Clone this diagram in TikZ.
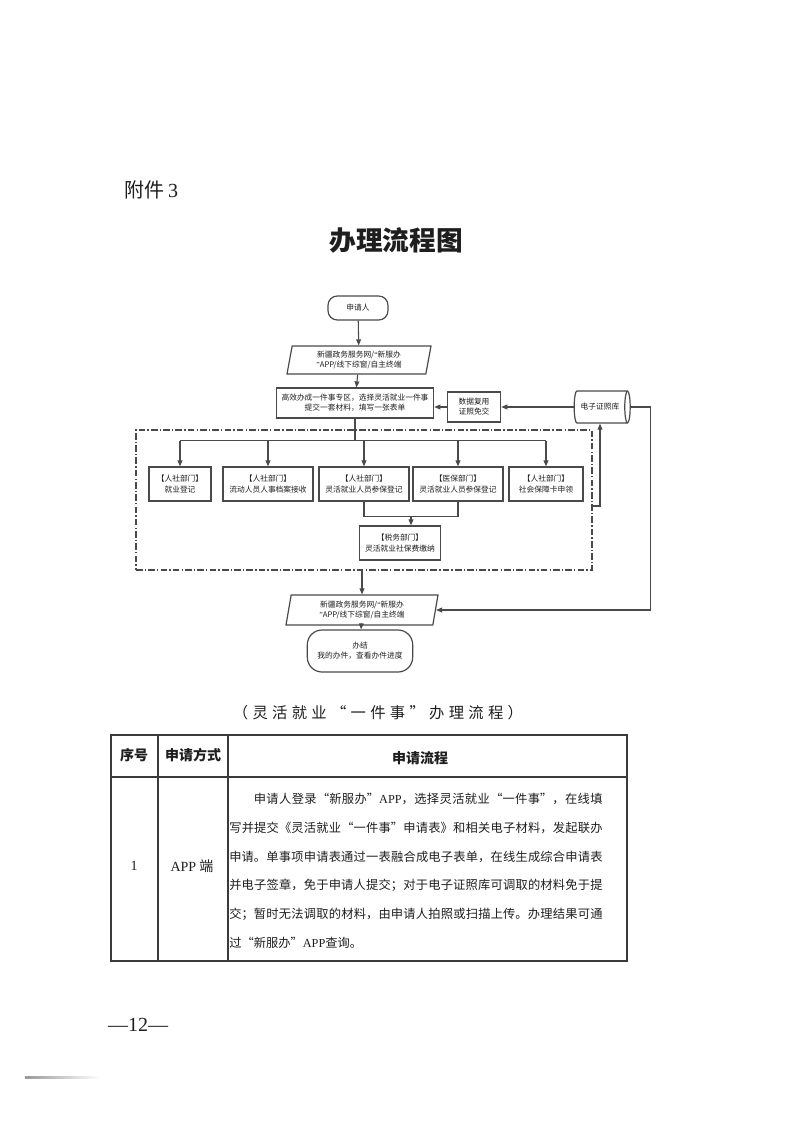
\documentclass[tikz,border=0pt]{standalone}
\usepackage{fontspec}
\setmainfont{Liberation Serif}
\newfontfamily\cjk{Noto Sans CJK SC}
\newfontfamily\cjkwide[LetterSpace=28]{Noto Sans CJK SC}
\usepackage{tikz}
\usetikzlibrary{calc,arrows.meta,positioning,shapes.geometric}
\definecolor{linex}{HTML}{4A4A4A}
\definecolor{inkx}{HTML}{1E1E1E}
\definecolor{rulex}{HTML}{3A3A3A}
\tikzset{
  ar/.style={-{Triangle[length=4.5pt,width=3.6pt]},line width=0.8pt,draw=linex},
  box/.style={draw=linex,line width=0.9pt,align=center,inner sep=1pt,text=inkx,font=\cjk\fontsize{5.8}{7.6}\selectfont},
  term/.style={box,rounded corners=7pt},
  para/.style={box,trapezium,trapezium left angle=76,trapezium right angle=104,trapezium stretches body},
  dept/.style={box,minimum height=25.5pt},
  cyl/.style={box,cylinder,aspect=0.55,minimum width=24pt,minimum height=42pt},
  dashgrp/.style={draw=linex,line width=0.8pt,dash pattern=on 5pt off 1.6pt on 1pt off 1.6pt},
  tbl/.style={draw=rulex,line width=1.1pt},
  head/.style={font=\cjk\bfseries\fontsize{10.5}{12}\selectfont,text=inkx},
  cell/.style={font=\cjk\fontsize{10.5}{12}\selectfont,text=inkx}
}
\begin{document}
\begin{tikzpicture}[x=0.75pt,y=-0.75pt]
\useasboundingbox (0,0) rectangle (793,1122);
\node[anchor=west,font=\cjk\fontsize{15}{18}\selectfont,text=inkx] (annex) at (120,190) {附件\,{\rmfamily 3}};
\node[font=\cjk\bfseries\fontsize{20}{24}\selectfont,text=inkx] (title) at (396,240) {办理流程图};

\node[term,minimum width=45pt,minimum height=18pt] (appl) at (358,308) {申请人};
\node[para,minimum width=108pt,minimum height=21pt] (portal) at (359,360) {新疆政务服务网/{\rmfamily “}新服办\\{\rmfamily ”}APP/线下综窗/自主终端};
\node[box,minimum width=118pt,minimum height=22.5pt] (onestop) at (355,403) {高效办成一件事专区，选择灵活就业一件事\\提交一套材料，填写一张表单};
\node[box,minimum width=40pt,minimum height=22.5pt] (reuse) at (474,407) {数据复用\\证照免交};
\node[cyl] (certlib) at (600,407) {电子证照库};

\node[dashgrp,minimum width=342pt,minimum height=105pt] (zone) at (364,500) {};
\foreach \nm/\cx/\wdx/\dept/\task in {jy/180/46.5/人社部门/就业登记,da/268/67.5/人社部门/流动人员人事档案接收,cb/364/67.5/人社部门/灵活就业人员参保登记,yb/458/67.5/医保部门/灵活就业人员参保登记,sb/546/55.5/人社部门/社会保障卡申领}
  \node[dept,minimum width=\wdx pt] (\nm) at (\cx,484) {【\dept】\\\task};
\node[dept,minimum width=61pt] (sw) at (400,543) {【税务部门】\\灵活就业社保费缴纳};

\node[para,minimum width=114pt,minimum height=22.5pt] (portal2) at (362,610) {新疆政务服务网/{\rmfamily “}新服办\\{\rmfamily ”}APP/线下综窗/自主终端};
\node[term,minimum width=79pt,minimum height=31.5pt,rounded corners=11pt] (done) at (360,651) {办结\\我的办件，查看办件进度};

\draw[ar] (appl) -- (portal);
\draw[ar] (portal) -- (onestop);
\draw[ar] (certlib.west) -- (reuse.east);
\draw[ar] (reuse.west) -- (reuse.west -| onestop.east);
\coordinate (split) at ($(onestop.south)+(0,22)$);
\draw[line width=0.8pt,linex] (onestop.south) -- (split);
\draw[line width=0.8pt,linex] (split -| jy.north) -- (split -| sb.north);
\foreach \nm in {jy,da,cb,yb,sb}
  \draw[ar] (split -| \nm.north) -- (\nm.north);
\coordinate (join) at ($(cb.south)!0.5!(yb.south)+(0,15)$);
\draw[line width=0.8pt,linex] (cb.south) -- (cb.south |- join) -- (yb.south |- join) -- (yb.south);
\draw[ar] (join) -- (join |- sw.north);
\draw[ar] ($(zone.east)+(0,6)$) -| (certlib.south);
\draw[ar] (zone.south -| portal2.north) -- (portal2.north);
\draw[ar] (certlib.east) -- ++(20,0) |- (portal2.east);
\draw[ar] (portal2) -- (done);

\node[font=\cjkwide\fontsize{11.5}{14}\selectfont,text=inkx] (caption) at (378,713) {（灵活就业“一件事”办理流程）};

\draw[tbl] (111,735) rectangle (627,961);
\draw[tbl] (111,777) -- (627,777);
\draw[tbl] (158,735) -- (158,961);
\draw[tbl] (228,735) -- (228,961);
\node[head] (hno) at (134,755) {序号};
\node[head] (hway) at (193,755) {申请方式};
\node[head] (hflow) at (420,758) {申请流程};
\node[cell] (no) at (134,866) {{\rmfamily 1}};
\node[cell] (way) at (192,866) {{\rmfamily APP} 端};
\node[anchor=north west,text width=280pt,align=justify,inner sep=0pt,text=inkx,font=\cjk\fontsize{9.2}{21.5}\selectfont] (steps) at (229,793)
  {\XeTeXlinebreaklocale "zh"\XeTeXlinebreakskip=0pt plus 1pt
   \hspace*{2em}申请人登录“新服办”{\rmfamily APP}，选择灵活就业“一件事”，在线填\linebreak
   写并提交《灵活就业“一件事”申请表》和相关电子材料，发起联办\linebreak
   申请。单事项申请表通过一表融合成电子表单，在线生成综合申请表\linebreak
   并电子签章，免于申请人提交；对于电子证照库可调取的材料免于提\linebreak
   交；暂时无法调取的材料，由申请人拍照或扫描上传。办理结果可通\linebreak
   过“新服办”{\rmfamily APP}查询。};

\node[font=\fontsize{15}{18}\selectfont,text=inkx] (pgno) at (138,1025) {—12—};
\shade[left color=gray!80,right color=white] (25,1076) rectangle (100,1078);
\end{tikzpicture}
\end{document}
